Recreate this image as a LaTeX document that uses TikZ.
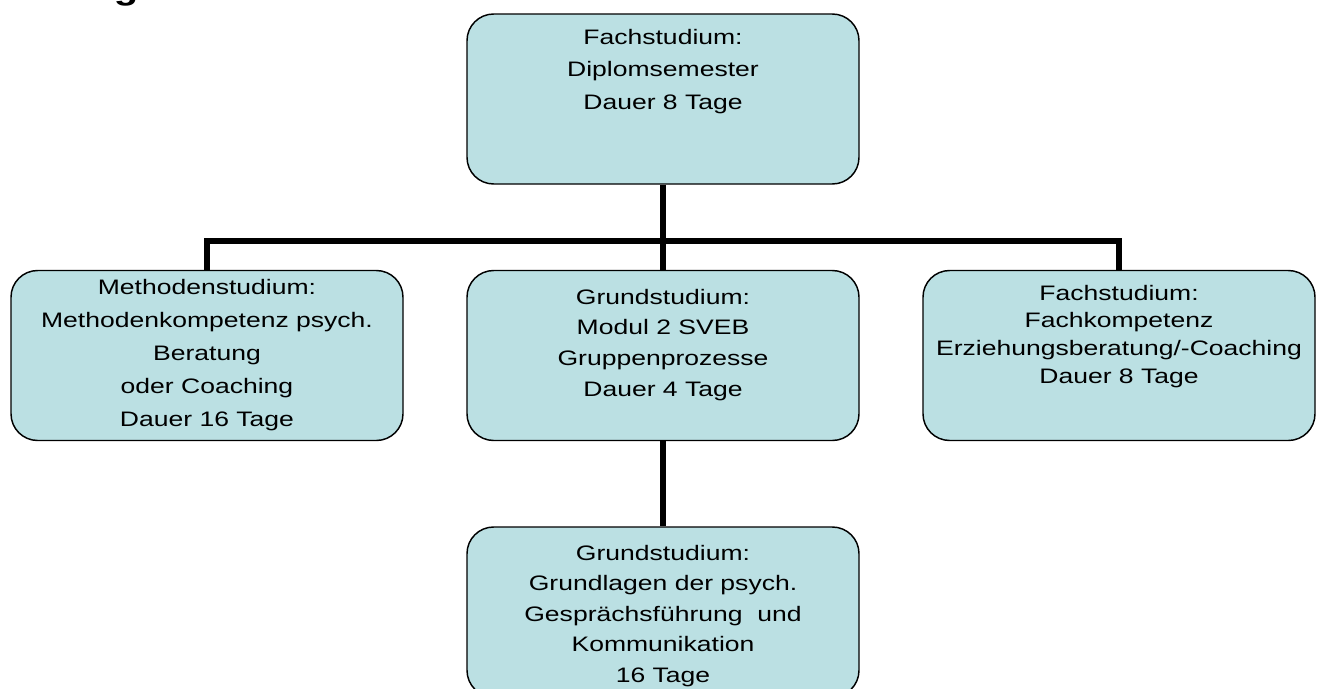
\documentclass[tikz,border=0pt]{standalone}
\usepackage{fontspec}
\setmainfont{Liberation Sans}
\usepackage{graphicx}
\definecolor{boxfill}{HTML}{BBE0E3}
\newcommand\bxt[2]{\scalebox{1}[0.79]{\fontsize{19.9pt}{#1}\selectfont\begin{tabular}[t]{@{}c@{}}#2\end{tabular}}}
\begin{document}
\begin{tikzpicture}[x=0.75pt,y=-0.75pt,
  box/.style={draw=black, line width=1.1pt, fill=boxfill, rounded corners=20pt,
              minimum width=294pt, minimum height=127.5pt, inner sep=0pt},
  txt/.style={anchor=base, inner sep=0pt},
  conn/.style={draw=black, line width=4.5pt}]
\useasboundingbox (0,0) rectangle (1322,689);
\node[box] (top) at (663,99) {};
\node[box] (left) at (207,355.5) {};
\node[box] (mid) at (663,355.5) {};
\node[box] (right) at (1119,355.5) {};
\node[box] (bot) at (663,612) {};
\coordinate (hub) at (663,241);
\draw[conn] (top.south) -- (mid.north);
\draw[conn] (left.north) |- (hub) -| (right.north);
\draw[conn] (mid.south) -- (bot.north);
\node[txt] (title) at (126,-1) {\scalebox{1}[0.79]{\fontsize{30pt}{36pt}\selectfont\bfseries g}};
\node[txt] (topt) at (663,44) {\bxt{31.3pt}{Fachstudium:\\Diplomsemester\\Dauer 8 Tage}};
\node[txt] (leftt) at (207,294) {\bxt{31.5pt}{Methodenstudium:\\Methodenkompetenz psych.\\Beratung\\oder Coaching\\Dauer 16 Tage}};
\node[txt] (midt) at (663,304) {\bxt{29.2pt}{Grundstudium:\\Modul 2 SVEB\\Gruppenprozesse\\Dauer 4 Tage}};
\node[txt] (rightt) at (1119,300) {\bxt{26.3pt}{Fachstudium:\\Fachkompetenz\\Erziehungsberatung/-Coaching\\Dauer 8 Tage}};
\node[txt] (bott) at (663,560) {\bxt{29pt}{Grundstudium:\\Grundlagen der psych.\\Gespr\"achsf\"uhrung~ und\\Kommunikation\\16 Tage}};
\end{tikzpicture}
\end{document}
